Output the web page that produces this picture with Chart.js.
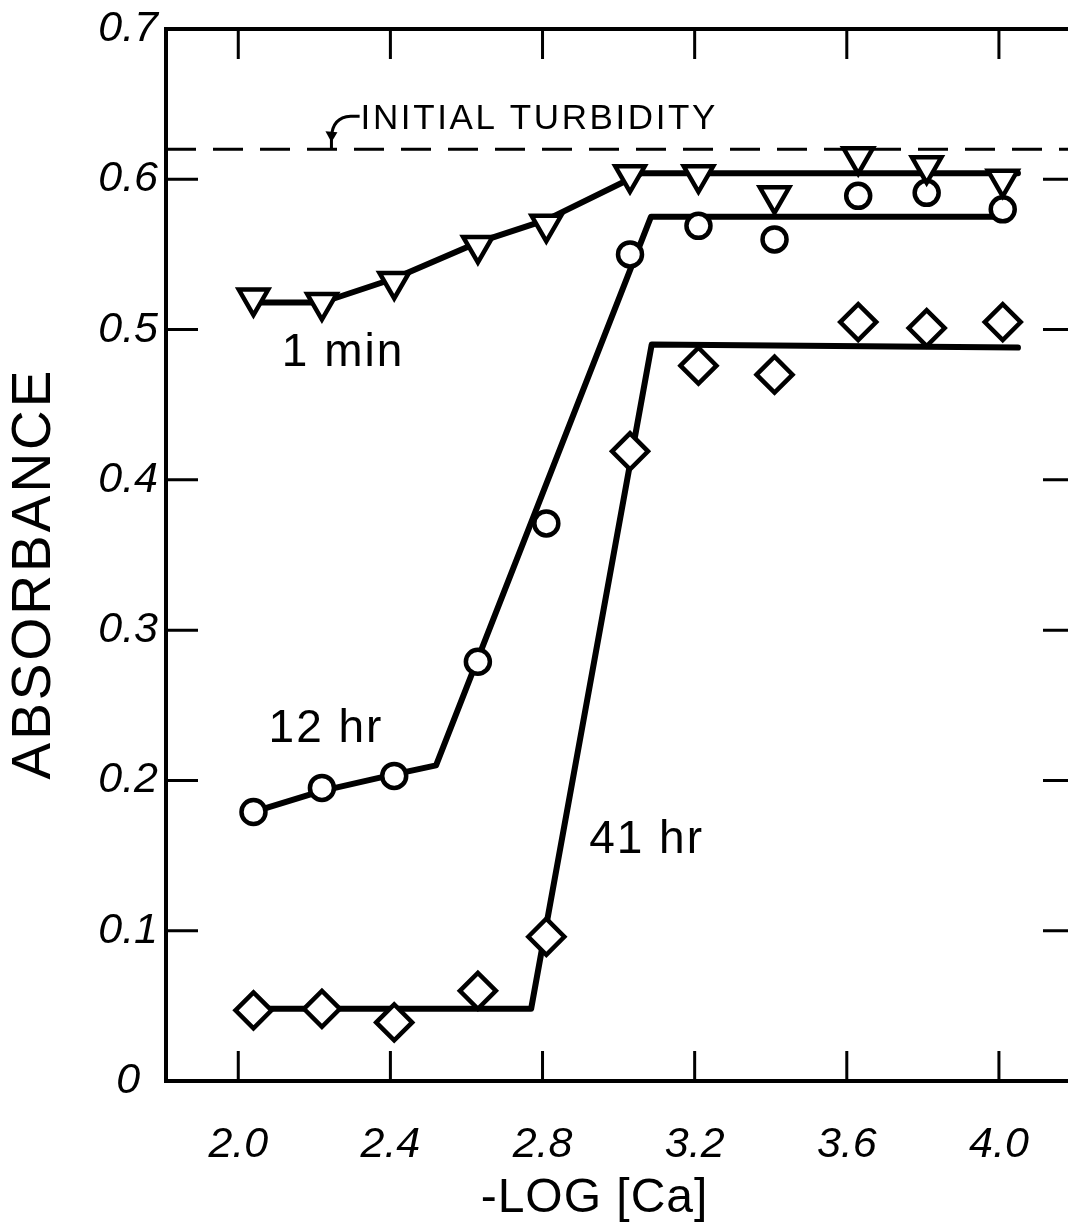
<!DOCTYPE html>
<html>
<head>
<meta charset="utf-8">
<title>Absorbance vs -log [Ca]</title>
<script src="https://cdn.jsdelivr.net/npm/chart.js@4.4.1/dist/chart.umd.min.js"></script>
<style>
  html, body { margin: 0; padding: 0; background: #fff; overflow: hidden; }
  #wrap { width: 1090px; height: 1225px; }
</style>
</head>
<body>
<div id="wrap"><canvas id="chart" width="1090" height="1225"></canvas></div>
<script>
// -log [Ca] for each sample
const logCa = [2.04, 2.22, 2.41, 2.63, 2.81, 3.03, 3.21, 3.41, 3.63, 3.81, 4.01];

// measured absorbance
const abs1min = [0.521, 0.518, 0.532, 0.556, 0.570, 0.603, 0.603, 0.589, 0.615, 0.609, 0.600];
const abs12hr = [0.179, 0.195, 0.203, 0.279, 0.371, 0.550, 0.569, 0.560, 0.589, 0.591, 0.580];
const abs41hr = [0.047, 0.048, 0.039, 0.060, 0.096, 0.419, 0.476, 0.470, 0.505, 0.501, 0.505];

// hand-fitted curves
const fit1minX = [2.04, 2.22, 2.41, 2.63, 2.81, 3.06, 4.05];
const fit1minY = [0.518, 0.518, 0.534, 0.558, 0.573, 0.604, 0.604];
const fit12hrX = [2.04, 2.22, 2.41, 2.52, 3.085, 4.01];
const fit12hrY = [0.179, 0.193, 0.204, 0.210, 0.575, 0.575];
const fit41hrX = [2.04, 2.77, 3.087, 4.05];
const fit41hrY = [0.048, 0.048, 0.490, 0.488];

const initialTurbidity = 0.62;

const xTicks = [2.0, 2.4, 2.8, 3.2, 3.6, 4.0];
const xTickLabels = ['2.0', '2.4', '2.8', '3.2', '3.6', '4.0'];
const yTicks = [0, 0.1, 0.2, 0.3, 0.4, 0.5, 0.6, 0.7];
const yTickLabels = ['0', '0.1', '0.2', '0.3', '0.4', '0.5', '0.6', '0.7'];

const curveNotes = [
  { text: '1 min', x: 2.273, y: 0.484 },
  { text: '12 hr', x: 2.228, y: 0.234 },
  { text: '41 hr', x: 3.071, y: 0.160 }
];

const FONT = '"Liberation Sans", Arial, sans-serif';

const pts = (xs, ys) => xs.map((x, i) => ({ x, y: ys[i] }));

const markerStyle = {
  showLine: false,
  backgroundColor: '#fff',
  borderColor: '#000',
  borderWidth: 4.5,
  order: 0
};
const fitStyle = {
  showLine: true,
  pointRadius: 0,
  borderColor: '#000',
  borderWidth: 6,
  borderJoinStyle: 'round',
  borderCapStyle: 'round',
  order: 1
};

function spacedText(ctx, text, cx, cy, spacing) {
  const chars = [...text];
  const widths = chars.map(c => ctx.measureText(c).width);
  const total = widths.reduce((s, w) => s + w, 0) + spacing * (chars.length - 1);
  let x = cx - total / 2;
  ctx.textAlign = 'left';
  chars.forEach((c, i) => {
    ctx.fillText(c, x, cy);
    x += widths[i] + spacing;
  });
  return cx - total / 2;
}

// frame with inward ticks on all four sides
const frame = {
  id: 'frame',
  beforeDatasetsDraw(chart) {
    const { ctx, chartArea: a, scales: { x, y } } = chart;
    ctx.save();
    ctx.strokeStyle = '#000';
    ctx.lineWidth = 4;
    ctx.lineCap = 'square';
    ctx.strokeRect(a.left, a.top, a.right - a.left, a.bottom - a.top);
    ctx.lineWidth = 3;
    ctx.lineCap = 'butt';
    ctx.beginPath();
    xTicks.forEach(v => {
      const px = x.getPixelForValue(v);
      ctx.moveTo(px, a.bottom); ctx.lineTo(px, a.bottom - 30);
      ctx.moveTo(px, a.top); ctx.lineTo(px, a.top + 30);
    });
    yTicks.slice(1, -1).forEach(v => {
      const py = y.getPixelForValue(v);
      ctx.moveTo(a.left, py); ctx.lineTo(a.left + 32, py);
      ctx.moveTo(a.right, py); ctx.lineTo(a.right - 32, py);
    });
    ctx.stroke();
    ctx.restore();
  },
  afterDatasetsDraw(chart) {
    const { ctx, chartArea: a, scales: { x, y } } = chart;
    ctx.save();
    ctx.fillStyle = '#000';
    ctx.strokeStyle = '#000';
    ctx.textBaseline = 'middle';

    // curve labels
    ctx.font = `46px ${FONT}`;
    curveNotes.forEach(n => {
      spacedText(ctx, n.text, x.getPixelForValue(n.x), y.getPixelForValue(n.y), 2);
    });

    // initial turbidity note and its arrow
    const ty = y.getPixelForValue(initialTurbidity);
    ctx.font = `35px ${FONT}`;
    const textLeft = spacedText(ctx, 'INITIAL TURBIDITY', x.getPixelForValue(2.788), ty - 30, 2.6);
    const tipX = x.getPixelForValue(2.245);
    ctx.lineWidth = 3;
    ctx.beginPath();
    ctx.moveTo(textLeft - 1, ty - 33);
    ctx.lineTo(textLeft - 10, ty - 33);
    ctx.quadraticCurveTo(tipX + 1, ty - 32, tipX, ty - 12);
    ctx.moveTo(tipX, ty - 12);
    ctx.lineTo(tipX, ty);
    ctx.stroke();
    ctx.beginPath();
    ctx.moveTo(tipX - 6, ty - 18);
    ctx.lineTo(tipX + 6, ty - 17);
    ctx.lineTo(tipX, ty - 7);
    ctx.closePath();
    ctx.fill();

    // axis titles
    ctx.font = `48px ${FONT}`;
    spacedText(ctx, '-LOG [Ca]', a.left + 428, a.bottom + 118, 1);

    ctx.translate(35, (a.top + a.bottom) / 2 + 20);
    ctx.rotate(-Math.PI / 2);
    ctx.font = `55px ${FONT}`;
    spacedText(ctx, 'ABSORBANCE', 0, 0, 3);
    ctx.restore();
  }
};

new Chart(document.getElementById('chart'), {
  type: 'scatter',
  data: {
    datasets: [
      { ...markerStyle, label: '1 min', data: pts(logCa, abs1min), pointStyle: 'triangle', rotation: 180, pointRadius: 17 },
      { ...markerStyle, label: '12 hr', data: pts(logCa, abs12hr), pointStyle: 'circle', pointRadius: 12 },
      { ...markerStyle, label: '41 hr', data: pts(logCa, abs41hr), pointStyle: 'rectRot', pointRadius: 18 },
      { ...fitStyle, label: 'fit 1 min', data: pts(fit1minX, fit1minY) },
      { ...fitStyle, label: 'fit 12 hr', data: pts(fit12hrX, fit12hrY) },
      { ...fitStyle, label: 'fit 41 hr', data: pts(fit41hrX, fit41hrY) },
      {
        label: 'initial turbidity',
        data: [{ x: 1.81, y: initialTurbidity }, { x: 4.2, y: initialTurbidity }],
        showLine: true, pointRadius: 0, borderColor: '#000', borderWidth: 3,
        borderDash: [30, 17], order: 2
      }
    ]
  },
  options: {
    responsive: false,
    animation: false,
    events: [],
    layout: { autoPadding: false, padding: { top: 29, right: 15, left: 0, bottom: 0 } },
    plugins: { legend: { display: false }, tooltip: { enabled: false } },
    scales: {
      x: {
        type: 'linear', min: 1.81, max: 4.2,
        grid: { display: false }, border: { display: false },
        afterBuildTicks: s => { s.ticks = xTicks.map(value => ({ value })); },
        afterFit: s => { s.height = 144; },
        ticks: {
          color: '#000', padding: 30, maxRotation: 0, autoSkip: false,
          font: { family: FONT, size: 43, style: 'italic' },
          callback: (v, i) => xTickLabels[i]
        }
      },
      y: {
        type: 'linear', min: 0, max: 0.7,
        grid: { display: false }, border: { display: false },
        afterBuildTicks: s => { s.ticks = yTicks.map(value => ({ value })); },
        afterFit: s => { s.width = 166; },
        ticks: {
          color: '#000', padding: 0, crossAlign: 'center', autoSkip: false,
          font: { family: FONT, size: 43, style: 'italic' },
          callback: (v, i) => yTickLabels[i]
        }
      }
    }
  },
  plugins: [frame]
});
</script>
</body>
</html>
